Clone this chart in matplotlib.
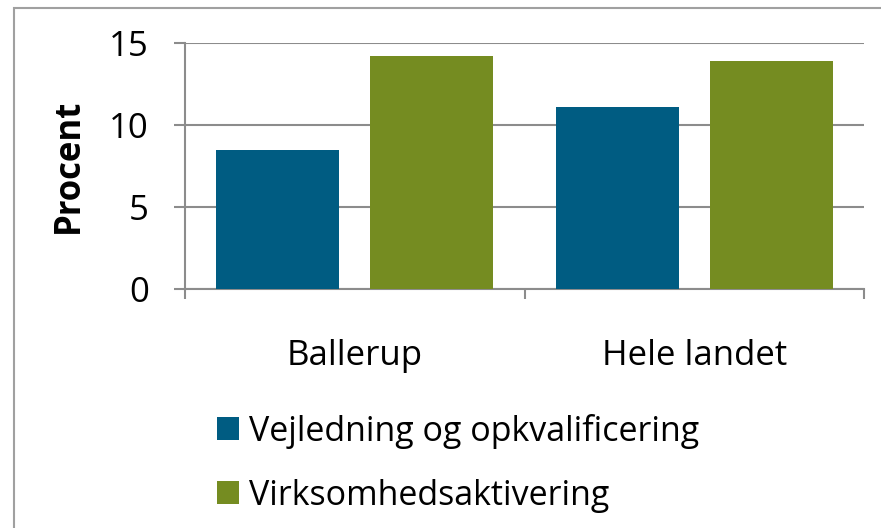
import matplotlib.pyplot as plt
from matplotlib.patches import Patch, Rectangle
import numpy as np

categories = ["Ballerup", "Hele landet"]
vejledning = [8.5, 11.1]
virksomhed = [14.2, 13.9]
series_names = ["Vejledning og opkvalificering", "Virksomhedsaktivering"]
colors = ["#005C82", "#758C21"]
yticks = [0, 5, 10, 15]

plt.rcParams['font.family'] = ['Open Sans', 'DejaVu Sans']
grid_col = "#8c8c8c"

fig = plt.figure(figsize=(8.81, 5.28), dpi=100)
ax = fig.add_axes([185/881, 1 - 289.3/528, (864 - 185)/881, (289.3 - 43.3)/528])

x = np.arange(len(categories))
w = 0.363
off = 0.227
ax.bar(x - off, vejledning, width=w, color=colors[0], zorder=3)
ax.bar(x + off, virksomhed, width=w, color=colors[1], zorder=3)

ax.set_xlim(-0.5, len(categories) - 0.5)
ax.set_ylim(0, 15)
ax.set_yticks(yticks)
ax.set_yticklabels([str(t) for t in yticks])
ax.yaxis.grid(True, color=grid_col, linewidth=1.5, zorder=0)
ax.set_axisbelow(True)

# category labels at centres, ticks at boundaries
ax.set_xticks(x)
ax.set_xticklabels(categories)
ax.set_xticks(np.arange(-0.5, len(categories)), minor=True)
ax.tick_params(axis='x', which='major', length=0, pad=36, labelsize=25)
ax.tick_params(axis='x', which='minor', length=7, width=1.5, color=grid_col, direction='out')
ax.tick_params(axis='y', length=8, width=1.5, color=grid_col, pad=18, labelsize=25)

for s in ['top', 'right']:
    ax.spines[s].set_visible(False)
for s in ['left', 'bottom']:
    ax.spines[s].set_color(grid_col)
    ax.spines[s].set_linewidth(1.5)

ax.set_ylabel("Procent", fontsize=25, fontweight='bold', labelpad=16)

handles = [Patch(facecolor=c, edgecolor='none') for c in colors]
fig.legend(handles, series_names, loc='upper left', bbox_to_anchor=(203/881, 1 - 400/528),
           frameon=False, fontsize=24.5, handlelength=0.65, handleheight=0.65,
           handletextpad=0.3, labelspacing=0.88, borderaxespad=0)

# outer chart frame (left and top edges visible)
fig.patches.append(Rectangle((14/881, -0.1), 1.1, 1 - 8/528 + 0.1, transform=fig.transFigure,
                             fill=False, edgecolor="#a0a0a0", linewidth=1.5))

fig.savefig("out.png", dpi=100)
